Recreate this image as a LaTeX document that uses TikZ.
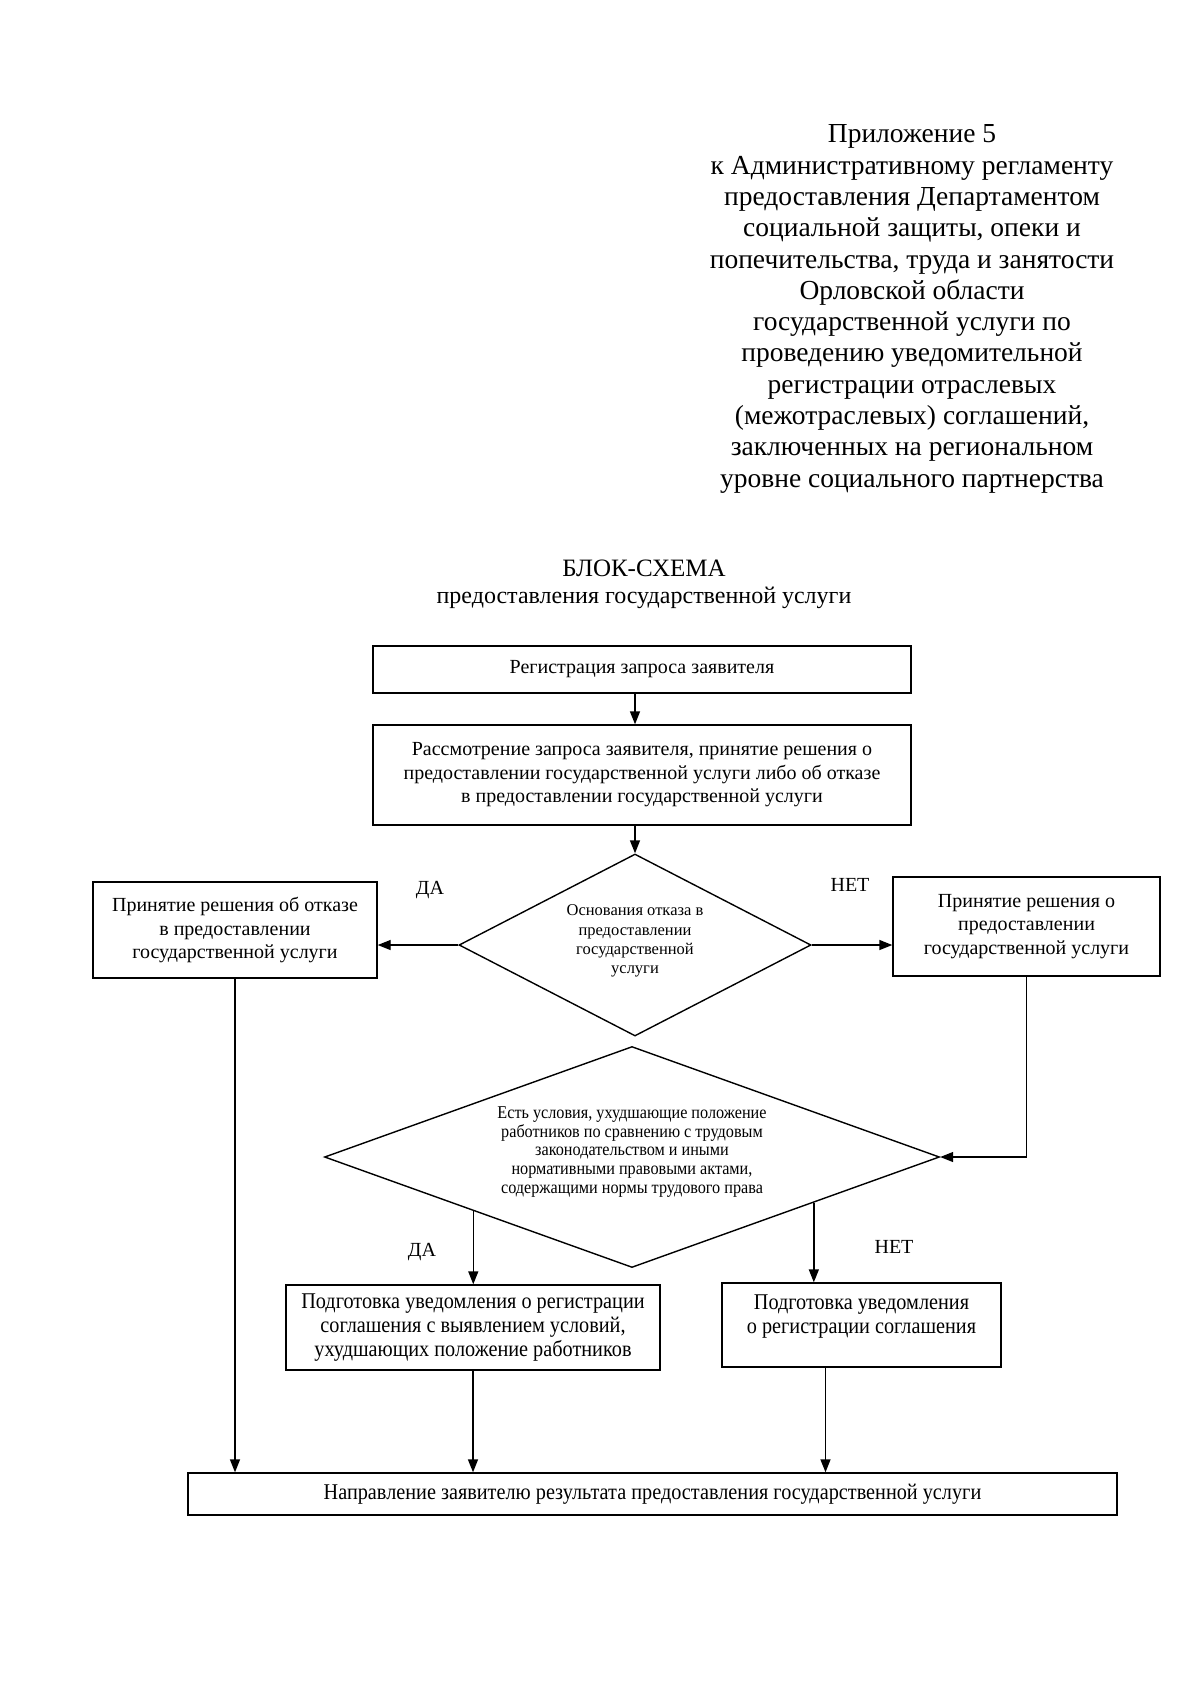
\documentclass[tikz,border=0pt]{standalone}
\usepackage{fontspec}
\setmainfont{Liberation Serif}
\newfontfamily\narrowserif[FakeStretch=0.9]{Liberation Serif}
\usetikzlibrary{arrows.meta,shapes.geometric,calc}
\begin{document}
\begin{tikzpicture}[x=1pt,y=-1pt,
  box/.style={draw, line width=1.4pt, align=center, inner sep=0pt, font=\fontsize{20}{23.5}\selectfont},
  nbox/.style={box, font=\narrowserif\fontsize{22.5}{24}\selectfont},
  ntext/.style={align=center, inner sep=0pt, font=\narrowserif\fontsize{22.5}{24}\selectfont},
  dia/.style={draw, diamond, line width=1.4pt, inner sep=0pt, aspect=2},
  arr/.style={line width=1.4pt, -{Triangle[length=13pt,width=10pt]}},
  lbl/.style={font=\fontsize{20}{24}\selectfont, inner sep=0pt},
]
\useasboundingbox (0,0) rectangle (1200,1697);
\fill[white] (0,0) rectangle (1200,1697);

\node[align=center, font=\fontsize{27.5}{31.3}\selectfont] (hdr) at (912,309)
 {Приложение 5\\к Административному регламенту\\предоставления Департаментом\\социальной защиты, опеки и\\попечительства, труда и занятости\\Орловской области\\государственной услуги по\\проведению уведомительной\\регистрации отраслевых\\(межотраслевых) соглашений,\\заключенных на региональном\\уровне социального партнерства};

\node[align=center, font=\fontsize{24}{27}\selectfont] (ttl) at (644,584)
 {{\fontsize{25}{27}\selectfont БЛОК-СХЕМА}\\предоставления государственной услуги};

\node[box, minimum width=538pt, minimum height=47pt] (b1) at (642,669.5) {Регистрация запроса заявителя};
\node[box, minimum width=538pt, minimum height=100pt] (b2) at (642,775)
 {Рассмотрение запроса заявителя, принятие решения о\\предоставлении государственной услуги либо об отказе\\в предоставлении государственной услуги};

\node[dia, minimum width=352pt, minimum height=182pt] (d1) at (635,945) {};
\node[align=center, font=\fontsize{16.5}{19.3}\selectfont] (d1t) at (635,941)
 {Основания отказа в\\предоставлении\\государственной\\услуги};

\node[box, minimum width=284pt, minimum height=96pt] (bl) at (235,930)
 {Принятие решения об отказе\\в предоставлении\\государственной услуги};
\node[box, minimum width=267pt, minimum height=99pt] (br) at (1026.5,926.5)
 {Принятие решения о\\предоставлении\\государственной услуги};

\node[lbl] (da1) at (430,890) {ДА};
\node[lbl] (net1) at (850,885) {НЕТ};

\node[dia, minimum width=615pt, minimum height=221pt] (d2) at (632,1157) {};
\node[align=center, font=\narrowserif\fontsize{18}{18.6}\selectfont] (d2t) at (632,1152)
 {Есть условия, ухудшающие положение\\работников по сравнению с трудовым\\законодательством и иными\\нормативными правовыми актами,\\содержащими нормы трудового права};

\node[lbl] (da2) at (422,1252) {ДА};
\node[lbl] (net2) at (894,1247) {НЕТ};

\node[nbox, minimum width=374pt, minimum height=85pt] (bll) at (473,1327.5)
 {Подготовка уведомления о регистрации\\соглашения с выявлением условий,\\ухудшающих положение работников};
\node[box, minimum width=279pt, minimum height=84pt] (blr) at (861.5,1325) {};
\node[ntext] (blrt) at (861.5,1317) {Подготовка уведомления\\о регистрации соглашения};

\node[nbox, minimum width=929pt, minimum height=42pt] (bot) at (652.5,1494)
 {Направление заявителю результата предоставления государственной услуги};

\draw[arr] (b1.south -| d1.north) -- (b2.north -| d1.north);
\draw[arr] (b2.south -| d1.north) -- (d1.north);
\draw[arr] (d1.west) -- (d1.west -| bl.east);
\draw[arr] (d1.east) -- (d1.east -| br.west);
\draw[arr] (br.south) |- (d2.east);
\draw[arr] (bl.south) -- (bl.south |- bot.north);
\coordinate (dl) at ($(d2.west)!0.485!(d2.south)$);
\coordinate (dr) at ($(d2.east)!0.41!(d2.south)$);
\draw[arr] (dl) -- (dl |- bll.north);
\draw[arr] (dr) -- (dr |- blr.north);
\draw[arr] (bll.south) -- (bll.south |- bot.north);
\coordinate (blrout) at ([xshift=-36pt]blr.south);
\draw[arr] (blrout) -- (blrout |- bot.north);
\end{tikzpicture}
\end{document}
